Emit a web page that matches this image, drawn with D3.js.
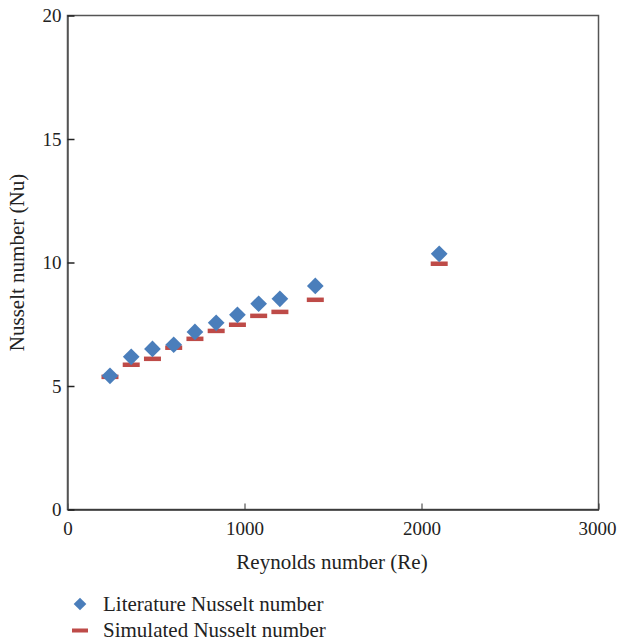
<!DOCTYPE html>
<html>
<head>
<meta charset="utf-8">
<script src="https://cdn.jsdelivr.net/npm/d3@7"></script>
<style>
  html, body { margin: 0; padding: 0; background: #fff; }
  svg { display: block; }
  text { font-family: "Liberation Serif", "DejaVu Serif", serif; fill: #222; }
</style>
</head>
<body>
<svg id="chart" width="618" height="644"></svg>
<script>
// Reynolds numbers of the test cases
const reynolds = [240, 360, 480, 600, 720, 840, 960, 1080, 1200, 1400, 2100];
// Nusselt numbers from correlations in the literature
const literatureNu = [5.41, 6.18, 6.50, 6.67, 7.19, 7.56, 7.88, 8.33, 8.53, 9.05, 10.35];
// Nusselt numbers from the simulation
const simulatedNu = [5.37, 5.86, 6.10, 6.55, 6.91, 7.23, 7.48, 7.84, 8.00, 8.49, 9.95];

const xTicks = [0, 1000, 2000, 3000];
const yTicks = [0, 5, 10, 15, 20];
const seriesNames = ["Literature Nusselt number", "Simulated Nusselt number"];

const blue = "#4a7ebb";
const red = "#be4b48";
const tickFont = "19px";
const titleFont = "21px";

const svg = d3.select("#chart");
const plot = { left: 67.5, right: 598.5, top: 15.5, bottom: 509.5 };

const x = d3.scaleLinear().domain([0, 3000]).range([plot.left, plot.right]);
const y = d3.scaleLinear().domain([0, 20]).range([plot.bottom, plot.top]);

// frame
svg.append("rect")
  .attr("x", plot.left).attr("y", plot.top)
  .attr("width", plot.right - plot.left).attr("height", plot.bottom - plot.top)
  .attr("fill", "none").attr("stroke", "#555").attr("stroke-width", 1.5);

// x axis, ticks pointing inward
const xAxis = svg.append("g")
  .attr("transform", `translate(0,${plot.bottom})`)
  .call(d3.axisBottom(x).tickValues(xTicks).tickFormat(d3.format("d"))
    .tickSizeInner(-6).tickSizeOuter(0).tickPadding(12));
xAxis.select(".domain").attr("stroke", "#333").attr("stroke-width", 1.5);
xAxis.selectAll(".tick line").attr("stroke", "#333");
xAxis.selectAll(".tick text").style("font-size", tickFont)
  .style("font-family", "Liberation Serif, serif").attr("fill", "#222")
  .attr("dx", d => d === 3000 ? -1.5 : 0);

// y axis, ticks pointing inward
const yAxis = svg.append("g")
  .attr("transform", `translate(${plot.left},0)`)
  .call(d3.axisLeft(y).tickValues(yTicks).tickFormat(d3.format("d"))
    .tickSizeInner(-7).tickSizeOuter(0).tickPadding(6));
yAxis.select(".domain").attr("stroke", "#555").attr("stroke-width", 1.5);
yAxis.selectAll(".tick line").attr("stroke", "#222").attr("stroke-width", 1.5);
yAxis.selectAll(".tick text").style("font-size", tickFont)
  .style("font-family", "Liberation Serif, serif").attr("fill", "#222");

// axis titles
svg.append("text")
  .attr("x", (plot.left + plot.right) / 2 - 1).attr("y", 569)
  .attr("text-anchor", "middle").style("font-size", titleFont)
  .text("Reynolds number (Re)");

svg.append("text")
  .attr("transform", `translate(24,${y(10)}) rotate(-90)`)
  .attr("text-anchor", "middle").style("font-size", titleFont)
  .text("Nusselt number (Nu)");

const diamond = d3.symbol().type(d3.symbolSquare).size(140);
const barW = 17, barH = 4.5;

// simulated values as short horizontal bars
svg.append("g").selectAll("rect")
  .data(reynolds.map((r, i) => [r, simulatedNu[i]]))
  .join("rect")
  .attr("x", d => x(d[0]) - barW / 2)
  .attr("y", d => y(d[1]) - barH / 2)
  .attr("width", barW).attr("height", barH)
  .attr("fill", red);

// literature values as diamonds
svg.append("g").selectAll("path")
  .data(reynolds.map((r, i) => [r, literatureNu[i]]))
  .join("path")
  .attr("d", diamond)
  .attr("transform", d => `translate(${x(d[0])},${y(d[1])}) rotate(45)`)
  .attr("fill", blue);

// legend
const legend = svg.append("g");
legend.append("path")
  .attr("d", d3.symbol().type(d3.symbolSquare).size(80))
  .attr("transform", "translate(80,604) rotate(45)")
  .attr("fill", blue);
legend.append("rect")
  .attr("x", 72).attr("y", 628.5).attr("width", 16).attr("height", 4)
  .attr("fill", red);
legend.append("text").attr("x", 103).attr("y", 611).style("font-size", titleFont).text(seriesNames[0]);
legend.append("text").attr("x", 103).attr("y", 637).style("font-size", titleFont).text(seriesNames[1]);
</script>
</body>
</html>
